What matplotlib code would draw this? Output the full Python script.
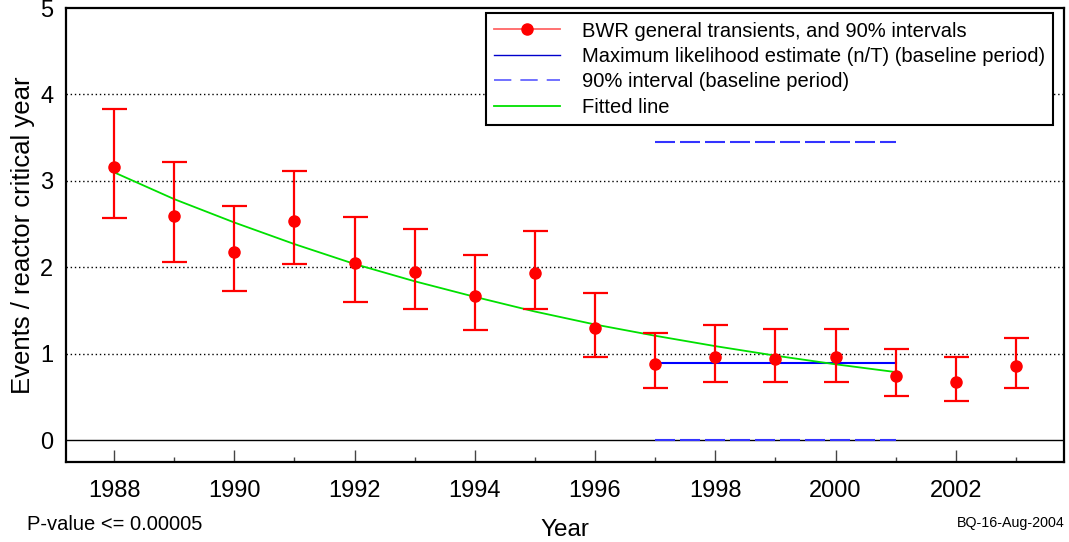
import matplotlib
matplotlib.use('Agg')
import matplotlib.pyplot as plt
from matplotlib.ticker import MultipleLocator
from matplotlib.lines import Line2D

plt.rcParams['font.family'] = ['Liberation Sans', 'DejaVu Sans']

# 데이터
years = [1988, 1989, 1990, 1991, 1992, 1993, 1994, 1995, 1996, 1997, 1998, 1999, 2000, 2001, 2002, 2003]
rate = [3.16, 2.59, 2.18, 2.54, 2.05, 1.95, 1.67, 1.93, 1.30, 0.88, 0.97, 0.94, 0.96, 0.75, 0.68, 0.86]
upper90 = [3.83, 3.22, 2.71, 3.12, 2.58, 2.45, 2.14, 2.42, 1.70, 1.24, 1.34, 1.29, 1.29, 1.06, 0.97, 1.18]
lower90 = [2.57, 2.06, 1.73, 2.04, 1.60, 1.52, 1.28, 1.52, 0.97, 0.60, 0.67, 0.67, 0.68, 0.51, 0.46, 0.60]

# 기준기간 (baseline period)
base_years = [1997, 2001]
base_mle = 0.89
base_upper = 3.45
base_lower = 0.005

# 추세선 (fitted line)
fit_years = [1988, 1989, 1990, 1991, 1992, 1993, 1994, 1995, 1996, 1997, 1998, 1999, 2000, 2001]
fit_vals = [3.10, 2.79, 2.52, 2.27, 2.04, 1.84, 1.66, 1.49, 1.34, 1.21, 1.09, 0.98, 0.88, 0.79]

err_lo = [r - l for r, l in zip(rate, lower90)]
err_hi = [u - r for r, u in zip(rate, upper90)]

fig = plt.figure(figsize=(10.69, 5.42), dpi=100)
ax = fig.add_axes([0.0617, 0.1476, 0.9336, 0.8376])

# 격자선
for g in [1, 2, 3, 4]:
    ax.axhline(g, color='black', lw=1, ls=(0, (1, 2)), zorder=1)
ax.axhline(0, color='black', lw=1, zorder=1)

# 기준기간 선
ax.plot(base_years, [base_mle, base_mle], color='#0000ff', lw=1.5, zorder=3)
d1, = ax.plot(base_years, [base_upper, base_upper], color='#3333ff', lw=1.5, zorder=3)
d2, = ax.plot(base_years, [base_lower, base_lower], color='#3333ff', lw=1.5, zorder=3)
d1.set_dashes((9.6, 2.4))
d2.set_dashes((9.6, 2.4))

# 추세선
ax.plot(fit_years, fit_vals, color='#00e000', lw=1.3, zorder=4)

# 점 + 90% 구간
ax.errorbar(years, rate, yerr=[err_lo, err_hi], fmt='o', color='red', ms=8,
            ecolor='red', elinewidth=1.6, capsize=9, capthick=1.6, zorder=5)

ax.set_xlim(1987.2, 2003.8)
ax.set_ylim(-0.25, 5)
ax.xaxis.set_major_locator(MultipleLocator(2))
ax.xaxis.set_minor_locator(MultipleLocator(1))
ax.set_yticks([0, 1, 2, 3, 4, 5])
ax.tick_params(axis='x', which='major', direction='in', length=8.4, width=1, color='#444444',
               labelsize=17, pad=13)
ax.tick_params(axis='x', which='minor', direction='in', length=3.6, width=1, color='#444444')
ax.tick_params(axis='y', length=0, labelsize=17, pad=9)
ax.tick_params(top=False, right=False)
for s in ax.spines.values():
    s.set_linewidth(1.6)

ax.set_xlabel('Year', fontsize=17.5, labelpad=12)
ax.set_ylabel('Events / reactor critical year', fontsize=18.5, labelpad=4)

# 범례
h1 = Line2D([], [], color='#ff6666', lw=1.3, marker='o', ms=8, markerfacecolor='red', markeredgecolor='red')
h2 = Line2D([], [], color='#0000cc', lw=1)
h3 = Line2D([], [], color='#6666ff', lw=1.3, dashes=(9.6, 5))
h4 = Line2D([], [], color='#00e000', lw=1.3)
leg = ax.legend([h1, h2, h3, h4],
                ['BWR general transients, and 90% intervals',
                 'Maximum likelihood estimate (n/T) (baseline period)',
                 '90% interval (baseline period)',
                 'Fitted line'],
                loc='upper right', bbox_to_anchor=(0.9895, 0.988), fontsize=14.5, frameon=True, fancybox=False,
                edgecolor='black', framealpha=1, handlelength=3.3, handletextpad=1.1,
                labelspacing=0.32, borderpad=0.4, borderaxespad=0)
leg.get_frame().set_linewidth(1.5)

fig.text(27 / 1069, 1 - 525 / 542, 'P-value <= 0.00005', fontsize=14.5, va='center', ha='left')
fig.text(1065 / 1069, 1 - 523 / 542, 'BQ-16-Aug-2004', fontsize=10.3, va='center', ha='right')

plt.savefig('out.png', dpi=100)
